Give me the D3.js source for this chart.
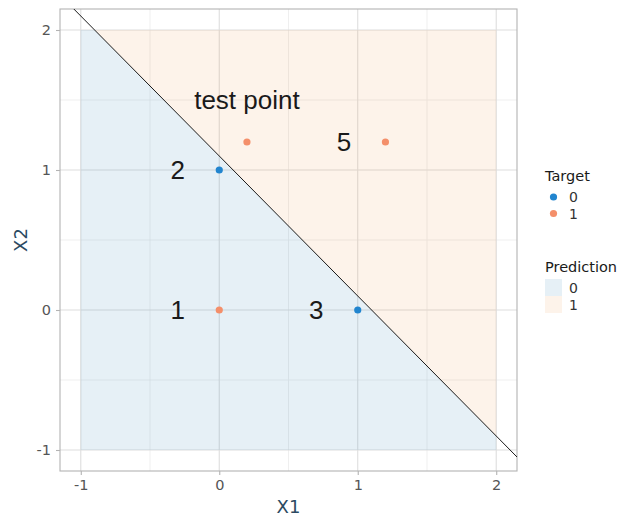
<!DOCTYPE html>
<html>
<head>
<meta charset="utf-8">
<script src="https://cdn.jsdelivr.net/npm/d3@7"></script>
<style>
  html, body { margin: 0; padding: 0; background: #fff; }
  svg { display: block; }
</style>
</head>
<body>
<svg id="chart" width="625" height="519"></svg>
<script>
// Training points: id, X1, X2, Target
const pointIds = ["1", "2", "3", "5"];
const pointX1 = [0, 0, 1, 1.2];
const pointX2 = [0, 1, 0, 1.2];
const pointTarget = [1, 0, 0, 1];

// Unlabelled test point
const testX1 = [0.2];
const testX2 = [1.2];
const testTarget = [1];
const testLabel = ["test point"];

// Decision boundary X2 = intercept + slope * X1
const boundaryIntercept = [1.1];
const boundarySlope = [-1];

// Prediction grid extent
const gridRange = [-1, 2];

const xTicks = [-1, 0, 1, 2];
const yTicks = [-1, 0, 1, 2];
const minorTicks = [-0.5, 0.5, 1.5];
const targetLevels = ["0", "1"];
const predictionLevels = ["0", "1"];

const pointColor = { "0": "#2185cf", "1": "#f48f6a" };
const regionColor = { "0": "rgba(31,120,180,0.115)", "1": "rgba(240,140,50,0.10)" };

const svg = d3.select("#chart");
const panel = { left: 60, top: 9, right: 517, bottom: 471 };

const x = d3.scaleLinear().domain([-1.15, 2.15]).range([panel.left, panel.right]);
const y = d3.scaleLinear().domain([-1.15, 2.15]).range([panel.bottom, panel.top]);

const sansTick = "'DejaVu Sans', sans-serif";
const sansLabel = "'Liberation Sans', Arial, sans-serif";

// Grid lines
const grid = svg.append("g");
minorTicks.forEach(v => {
  grid.append("line").attr("x1", x(v)).attr("x2", x(v)).attr("y1", panel.top).attr("y2", panel.bottom)
    .attr("stroke", "#ebebeb").attr("stroke-width", 0.8);
  grid.append("line").attr("y1", y(v)).attr("y2", y(v)).attr("x1", panel.left).attr("x2", panel.right)
    .attr("stroke", "#ebebeb").attr("stroke-width", 0.8);
});
xTicks.forEach(v => {
  grid.append("line").attr("x1", x(v)).attr("x2", x(v)).attr("y1", panel.top).attr("y2", panel.bottom)
    .attr("stroke", "#dedede").attr("stroke-width", 1.1);
});
yTicks.forEach(v => {
  grid.append("line").attr("y1", y(v)).attr("y2", y(v)).attr("x1", panel.left).attr("x2", panel.right)
    .attr("stroke", "#dedede").attr("stroke-width", 1.1);
});

// Prediction regions, split by the boundary inside the grid square
const b = boundaryIntercept[0], m = boundarySlope[0];
const lo = gridRange[0], hi = gridRange[1];
const xTop = (hi - b) / m;     // boundary meets top edge
const yRight = b + m * hi;     // boundary meets right edge
const region1 = [[xTop, hi], [hi, hi], [hi, yRight]];
const region0 = [[lo, lo], [lo, hi], [xTop, hi], [hi, yRight], [hi, lo]];
const line = d3.line().x(d => x(d[0])).y(d => y(d[1]));
svg.append("path").attr("d", line(region0) + "Z").attr("fill", regionColor["0"]);
svg.append("path").attr("d", line(region1) + "Z").attr("fill", regionColor["1"]);

// Panel border
svg.append("rect").attr("x", panel.left).attr("y", panel.top)
  .attr("width", panel.right - panel.left).attr("height", panel.bottom - panel.top)
  .attr("fill", "none").attr("stroke", "#b3b3b3").attr("stroke-width", 1.1);

// Boundary line across the panel
const clip = svg.append("clipPath").attr("id", "panelClip");
clip.append("rect").attr("x", panel.left).attr("y", panel.top)
  .attr("width", panel.right - panel.left).attr("height", panel.bottom - panel.top);
const [dx0, dx1] = x.domain();
svg.append("line").attr("clip-path", "url(#panelClip)")
  .attr("x1", x(dx0)).attr("y1", y(b + m * dx0))
  .attr("x2", x(dx1)).attr("y2", y(b + m * dx1))
  .attr("stroke", "#1a1a1a").attr("stroke-width", 1);

// Points
const pts = pointIds.map((id, i) => ({ id, x1: pointX1[i], x2: pointX2[i], t: String(pointTarget[i]) }));
svg.append("g").selectAll("circle").data(pts).join("circle")
  .attr("cx", d => x(d.x1)).attr("cy", d => y(d.x2)).attr("r", 3.6)
  .attr("fill", d => pointColor[d.t]);
svg.append("g").selectAll("circle").data(testX1).join("circle")
  .attr("cx", (d, i) => x(d)).attr("cy", (d, i) => y(testX2[i])).attr("r", 3.6)
  .attr("fill", (d, i) => pointColor[String(testTarget[i])]);

// Point labels
svg.append("g").selectAll("text").data(pts).join("text")
  .attr("x", d => x(d.x1 - 0.3)).attr("y", d => y(d.x2))
  .attr("dy", "0.36em").attr("text-anchor", "middle")
  .attr("font-family", sansLabel).attr("font-size", 26).attr("fill", "#1a1a1a")
  .text(d => d.id);
svg.append("text")
  .attr("x", x(testX1[0])).attr("y", y(testX2[0] + 0.3))
  .attr("dy", "0.36em").attr("text-anchor", "middle")
  .attr("font-family", sansLabel).attr("font-size", 26).attr("fill", "#1a1a1a")
  .text(testLabel[0]);

// Axes
const fmt = d => String(d);
const xAxis = svg.append("g").attr("transform", `translate(0,${panel.bottom})`)
  .call(d3.axisBottom(x).tickValues(xTicks).tickSize(4).tickPadding(5).tickFormat(fmt));
const yAxis = svg.append("g").attr("transform", `translate(${panel.left},0)`)
  .call(d3.axisLeft(y).tickValues(yTicks).tickSize(4).tickPadding(5).tickFormat(fmt));
[xAxis, yAxis].forEach(a => {
  a.select(".domain").remove();
  a.selectAll(".tick line").attr("stroke", "#b3b3b3").attr("stroke-width", 1.1);
  a.selectAll(".tick text").attr("fill", "#555").attr("font-family", sansTick).attr("font-size", 14.5);
});

// Axis titles
svg.append("text").attr("x", (panel.left + panel.right) / 2).attr("y", 513)
  .attr("text-anchor", "middle").attr("font-family", sansTick).attr("font-size", 18)
  .attr("fill", "#2b4a62").text("X1");
svg.append("text").attr("transform", `translate(27,${(panel.top + panel.bottom) / 2}) rotate(-90)`)
  .attr("text-anchor", "middle").attr("font-family", sansTick).attr("font-size", 18)
  .attr("fill", "#2b4a62").text("X2");

// Legends
const leg = svg.append("g").attr("font-family", sansTick).attr("fill", "#1a1a1a");
leg.append("text").attr("x", 545).attr("y", 181).attr("font-size", 14.5).text("Target");
targetLevels.forEach((lv, i) => {
  leg.append("circle").attr("cx", 553.5).attr("cy", 197 + i * 16.5).attr("r", 3.6).attr("fill", pointColor[lv]);
  leg.append("text").attr("x", 569).attr("y", 197 + i * 16.5).attr("dy", "0.36em")
    .attr("font-size", 14).attr("fill", "#333").text(lv);
});
leg.append("text").attr("x", 545).attr("y", 272).attr("font-size", 14.5).text("Prediction");
predictionLevels.forEach((lv, i) => {
  leg.append("rect").attr("x", 545).attr("y", 279 + i * 17).attr("width", 17).attr("height", 17)
    .attr("fill", regionColor[lv]);
  leg.append("text").attr("x", 569).attr("y", 287.5 + i * 17).attr("dy", "0.36em")
    .attr("font-size", 14).attr("fill", "#333").text(lv);
});
</script>
</body>
</html>
